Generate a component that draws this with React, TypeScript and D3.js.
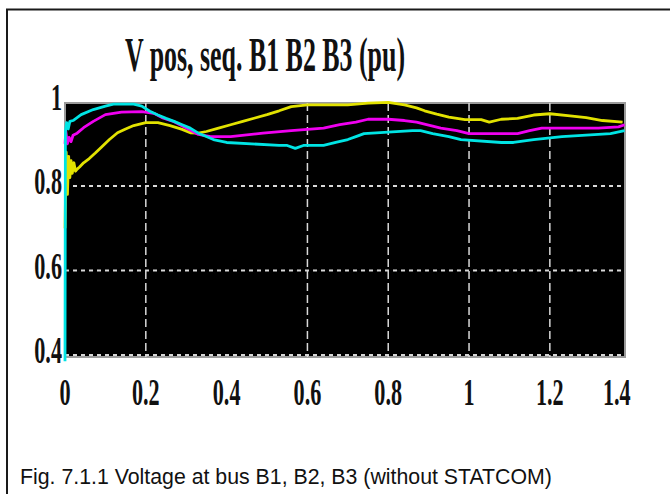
import React from "react";
import * as d3 from "d3";

const W = 670;
const H = 494;

const titleText = "V pos, seq. B1 B2 B3 (pu)";
const captionText = "Fig. 7.1.1 Voltage at bus B1, B2, B3 (without STATCOM)";

const xTicks = [0, 0.2, 0.4, 0.6, 0.8, 1, 1.2, 1.4];
const xTickLabels = ["0", "0.2", "0.4", "0.6", "0.8", "1", "1.2", "1.4"];
const xGrid = [0.2, 0.6, 0.8, 1, 1.2];
const yTicks = [1, 0.8, 0.6, 0.4];
const yTickLabels = ["1", "0.8", "0.6", "0.4"];
const yGrid = [0.8, 0.6, 0.4];

// B3 (yellow)
const yellowT = [0, 0.003, 0.006, 0.009, 0.012, 0.015, 0.018, 0.022, 0.026, 0.03, 0.036, 0.046, 0.06, 0.075, 0.09, 0.11, 0.13, 0.15, 0.17, 0.2, 0.23, 0.26, 0.29, 0.31, 0.33, 0.35, 0.38, 0.41, 0.44, 0.47, 0.5, 0.53, 0.56, 0.6, 0.65, 0.7, 0.75, 0.8, 0.84, 0.87, 0.89, 0.92, 0.95, 0.99, 1.03, 1.05, 1.08, 1.12, 1.16, 1.2, 1.25, 1.29, 1.33, 1.38];
const yellowV = [0.70, 0.88, 0.78, 0.87, 0.82, 0.86, 0.83, 0.855, 0.835, 0.84, 0.845, 0.855, 0.865, 0.878, 0.892, 0.91, 0.926, 0.935, 0.943, 0.95, 0.95, 0.943, 0.934, 0.926, 0.925, 0.929, 0.937, 0.945, 0.953, 0.961, 0.969, 0.978, 0.988, 0.992, 0.992, 0.992, 0.996, 0.998, 0.992, 0.985, 0.978, 0.97, 0.963, 0.957, 0.957, 0.951, 0.958, 0.96, 0.968, 0.971, 0.966, 0.962, 0.955, 0.951];

// B2 (magenta)
const magentaT = [0, 0.002, 0.006, 0.01, 0.015, 0.02, 0.03, 0.046, 0.07, 0.1, 0.14, 0.19, 0.22, 0.24, 0.27, 0.3, 0.33, 0.36, 0.41, 0.49, 0.56, 0.64, 0.68, 0.72, 0.75, 0.8, 0.84, 0.87, 0.9, 0.93, 0.97, 1.0, 1.06, 1.12, 1.15, 1.18, 1.25, 1.32, 1.37, 1.385];
const magentaV = [0.9, 0.93, 0.9, 0.915, 0.905, 0.92, 0.925, 0.938, 0.953, 0.969, 0.975, 0.976, 0.972, 0.962, 0.952, 0.937, 0.922, 0.917, 0.917, 0.925, 0.931, 0.937, 0.945, 0.951, 0.958, 0.958, 0.955, 0.951, 0.944, 0.937, 0.931, 0.924, 0.924, 0.924, 0.931, 0.937, 0.937, 0.937, 0.94, 0.945];

// B1 (cyan)
const cyanT = [0, 0.001, 0.004, 0.008, 0.012, 0.02, 0.04, 0.07, 0.1, 0.12, 0.17, 0.19, 0.21, 0.23, 0.25, 0.27, 0.29, 0.31, 0.33, 0.35, 0.37, 0.4, 0.53, 0.55, 0.57, 0.59, 0.64, 0.67, 0.7, 0.72, 0.74, 0.86, 0.88, 0.91, 0.95, 0.98, 1.08, 1.11, 1.16, 1.23, 1.35, 1.385];
const cyanV = [0.385, 0.93, 0.95, 0.935, 0.953, 0.955, 0.969, 0.981, 0.989, 0.994, 0.994, 0.989, 0.977, 0.968, 0.96, 0.953, 0.945, 0.937, 0.925, 0.917, 0.909, 0.903, 0.896, 0.896, 0.889, 0.896, 0.896, 0.903, 0.91, 0.917, 0.924, 0.931, 0.931, 0.924, 0.917, 0.91, 0.903, 0.903, 0.91, 0.917, 0.924, 0.931];

const series = [
  { name: "B3", t: yellowT, v: yellowV, color: "#e2e200" },
  { name: "B2", t: magentaT, v: magentaV, color: "#f000f0" },
  { name: "B1", t: cyanT, v: cyanV, color: "#00e4e4" },
];

export default function App() {
  const left = 65, right = 625, top = 103, bottom = 357;
  const x = d3.scaleLinear().domain([0, 1.386]).range([left, right]);
  const y = d3.scaleLinear().domain([0.4, 1.0]).range([355, 101.5]);
  const line = d3
    .line<[number, number]>()
    .x((d) => x(d[0]))
    .y((d) => y(d[1]));

  return (
    <svg width={W} height={H} style={{ position: "absolute", left: 0, top: 0, background: "#fff" }}>
      <rect x={0} y={0} width={W} height={H} fill="#fff" />
      {/* outer frame */}
      <rect x={7} y={9.5} width={W + 20} height={H + 20} fill="none" stroke="#1a1a1a" strokeWidth={2} />
      {/* title */}
      <text
        x={125}
        y={71}
        textLength={280}
        lengthAdjust="spacingAndGlyphs"
        fontFamily="'Liberation Serif', 'DejaVu Serif', serif"
        fontWeight="bold"
        fontSize={48}
        fill="#111"
      >
        {titleText}
      </text>
      {/* plot area */}
      <rect x={left} y={top} width={right - left} height={bottom - top} fill="#000" stroke="#9a9a9a" strokeWidth={2} />
      {yGrid.map((g) => (
        <line key={"hg" + g} x1={left} x2={right} y1={y(g)} y2={y(g)} stroke="#d8d8d8" strokeWidth={2} strokeDasharray="4,4" />
      ))}
      {xGrid.map((g) => (
        <line key={"vg" + g} x1={x(g)} x2={x(g)} y1={top} y2={bottom} stroke="#d8d8d8" strokeWidth={1.5} strokeDasharray="8,4" />
      ))}
      {series.map((s) => (
        <path
          key={s.name}
          d={line(s.t.map((t, i) => [t, s.v[i]] as [number, number])) || ""}
          fill="none"
          stroke={s.color}
          strokeWidth={2.8}
          strokeLinejoin="round"
        />
      ))}
      {/* y tick labels */}
      {yTicks.map((v, i) => (
        <text
          key={"yl" + v}
          transform={`translate(62,${y(v) - 4}) scale(0.6,1)`}
          textAnchor="end"
          dominantBaseline="central"
          fontFamily="'Liberation Serif', 'DejaVu Serif', serif"
          fontWeight="bold"
          fontSize={37}
          fill="#111"
        >
          {yTickLabels[i]}
        </text>
      ))}
      {/* x tick labels */}
      {xTicks.map((v, i) => (
        <text
          key={"xl" + v}
          transform={`translate(${x(v)},405) scale(0.6,1)`}
          textAnchor={i === xTicks.length - 1 ? "end" : "middle"}
          fontFamily="'Liberation Serif', 'DejaVu Serif', serif"
          fontWeight="bold"
          fontSize={37}
          fill="#111"
        >
          {xTickLabels[i]}
        </text>
      ))}
      {/* caption */}
      <text x={20} y={484} fontFamily="'Liberation Sans', Arial, sans-serif" fontSize={21.3} fill="#111">
        {captionText}
      </text>
    </svg>
  );
}
